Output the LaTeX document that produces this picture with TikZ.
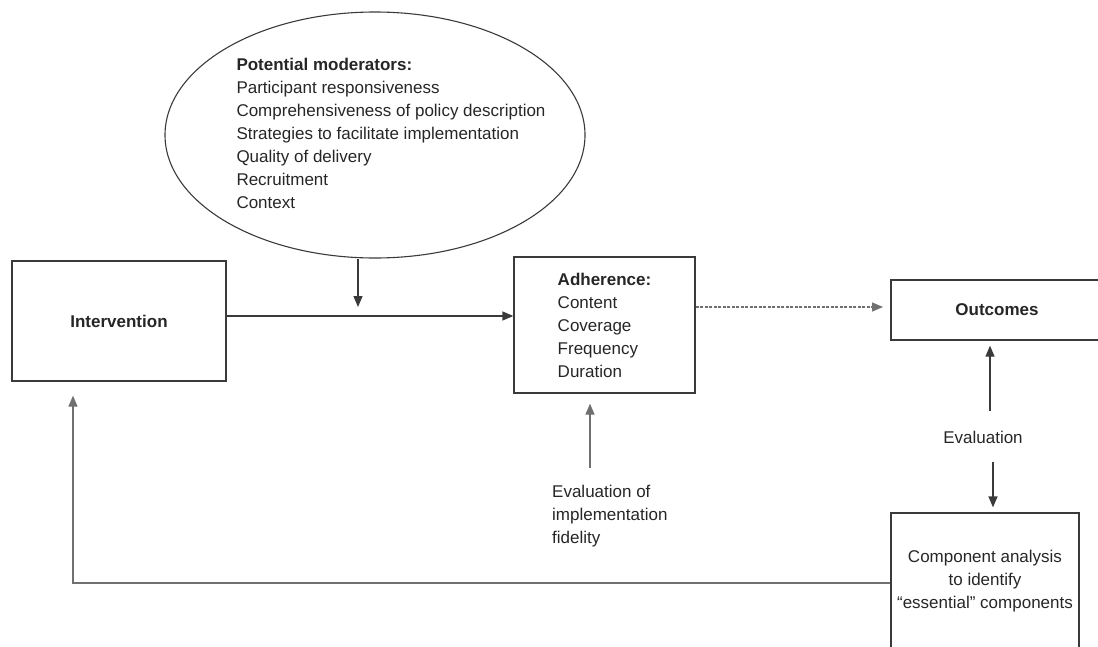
\documentclass[tikz,border=0pt]{standalone}
\usepackage{fontspec}
\setmainfont{Liberation Sans}
\usetikzlibrary{shapes.geometric,arrows.meta,calc}
\definecolor{ln}{HTML}{3A3A3A}
\definecolor{lg}{HTML}{707070}
\definecolor{tx}{HTML}{262626}
\begin{document}
\begin{tikzpicture}[x=1pt,y=-1pt,
  font=\fontsize{17}{23}\selectfont, text=tx,
  box/.style={draw=ln, line width=1.3pt, rectangle, inner sep=0pt},
  arr/.style={draw=ln, line width=1.3pt, -{Triangle[length=11pt,width=9pt]}},
  garr/.style={draw=lg, line width=1.3pt, -{Triangle[length=11pt,width=9pt]}},
  dsh/.style={draw=lg, line width=1.3pt, dash pattern=on 3pt off 1.5pt, -{Triangle[length=11pt,width=9pt]}},
  plain/.style={inner sep=0pt}]
\useasboundingbox (0,0) rectangle (1098,646);
\clip (0,0) rectangle (1098,646);

% moderators ellipse
\node[draw=ln, line width=1.1pt, ellipse, minimum width=420pt, minimum height=246pt, inner sep=0pt] (mod) at (375,135) {};
\node[plain, align=left] (modtxt) at (391,133) {\textbf{Potential moderators:}\\Participant responsiveness\\Comprehensiveness of policy description\\Strategies to facilitate implementation\\Quality of delivery\\Recruitment\\Context};

% boxes
\node[box, minimum width=214pt, minimum height=120pt] (int) at (119,321) {\textbf{Intervention}};
\node[box, minimum width=181pt, minimum height=136pt, align=left] (adh) at (604.5,325) {\textbf{Adherence:}\\Content\\Coverage\\Frequency\\Duration};
\node[box, minimum width=212pt, minimum height=60pt] (out) at (997,310) {\textbf{Outcomes}};
\node[box, minimum width=188pt, minimum height=136pt, align=center] (comp) at (985,581) {Component analysis\\to identify\\“essential” components};

% labels
\node[plain] (ev) at (983,437) {Evaluation};
\node[plain, align=left, anchor=west] (fid) at (552,516) {Evaluation of\\implementation\\fidelity};

% connectors
\draw[arr] ([yshift=5pt]int.east) -- ([yshift=5pt]int.east -| adh.west);
\coordinate (modtip) at (358,307);
\draw[arr] (mod.south -| modtip) -- (modtip);
\coordinate (dtip) at (883,307);
\draw[dsh] (adh.east |- dtip) -- (dtip);
\coordinate (ftail) at (590,468);
\draw[garr, shorten >=10pt] (ftail) -- (ftail |- adh.south);
\coordinate (eup) at (990,411);
\draw[arr, shorten >=5pt] (eup) -- (eup |- out.south);
\coordinate (edn) at (993,462);
\draw[arr, shorten >=5pt] (edn) -- (edn |- comp.north);
\coordinate (fb) at (73,583);
\draw[garr, shorten >=14pt] (comp.west |- fb) -- (fb) -- (fb |- int.south);
\end{tikzpicture}
\end{document}
